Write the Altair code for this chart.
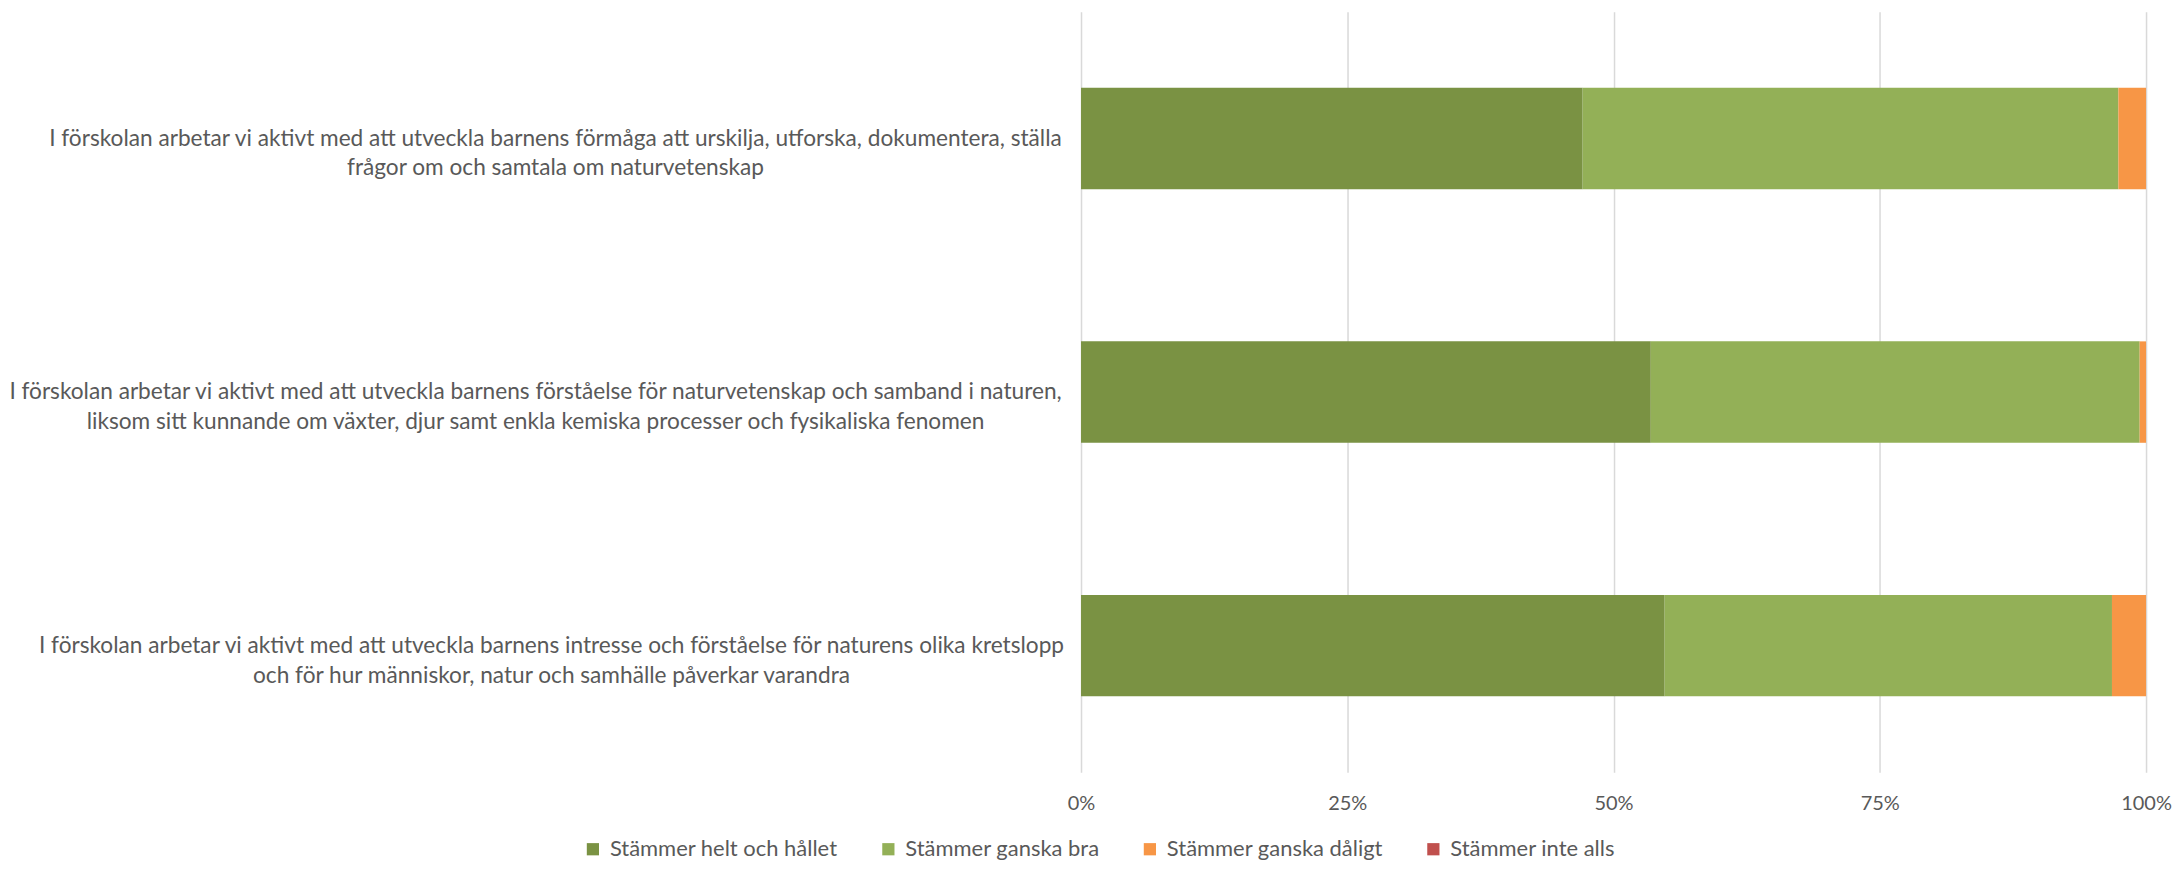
import altair as alt
import pandas as pd

categories = [
    "I förskolan arbetar vi aktivt med att utveckla barnens förmåga att urskilja, utforska, dokumentera, ställa\nfrågor om och samtala om naturvetenskap",
    "I förskolan arbetar vi aktivt med att utveckla barnens förståelse för naturvetenskap och samband i naturen,\nliksom sitt kunnande om växter, djur samt enkla kemiska processer och fysikaliska fenomen",
    "I förskolan arbetar vi aktivt med att utveckla barnens intresse och förståelse för naturens olika kretslopp\noch för hur människor, natur och samhälle påverkar varandra",
]
series = ["Stämmer helt och hållet", "Stämmer ganska bra", "Stämmer ganska dåligt", "Stämmer inte alls"]
colors = ["#7A9243", "#93B057", "#F79646", "#C0504D"]

helt = [0.471, 0.535, 0.548]
bra = [0.503, 0.459, 0.420]
daligt = [0.026, 0.006, 0.032]
inte = [0.0, 0.0, 0.0]

rows = []
for i, c in enumerate(categories):
    for k, (s, vals) in enumerate(zip(series, [helt, bra, daligt, inte])):
        rows.append({"category": c, "series": s, "value": vals[i], "order": k})
df = pd.DataFrame(rows)

font = "Lato"
txt = "#595959"
fs = 22.7

chart = alt.Chart(df).mark_bar().encode(
    y=alt.Y(
        "category:N",
        sort=categories,
        scale=alt.Scale(paddingInner=0.6, paddingOuter=0.3),
        axis=alt.Axis(
            title=None,
            domain=False,
            ticks=False,
            labelExpr="split(datum.label, '\\n')",
            labelAlign="center",
            labelPadding={
                "condition": [
                    {"test": "indexof(datum.value, 'förmåga') >= 0", "value": 527},
                    {"test": "indexof(datum.value, 'förståelse för naturvetenskap') >= 0", "value": 547},
                ],
                "value": 531,
            },
            labelLimit=2000,
            labelFont=font,
            labelFontSize=fs,
            labelColor=txt,
            labelLineHeight=30,
        ),
    ),
    x=alt.X(
        "value:Q",
        stack="zero",
        scale=alt.Scale(domain=[0, 1], nice=False),
        axis=alt.Axis(
            title=None,
            values=[0, 0.25, 0.5, 0.75, 1.0],
            format=".0%",
            domain=False,
            ticks=False,
            grid=True,
            gridColor="#D9D9D9",
            gridWidth=1.5,
            labelFlush=False,
            labelFont=font,
            labelFontSize=20,
            labelColor=txt,
            labelPadding=21,
        ),
    ),
    color=alt.Color(
        "series:N",
        sort=series,
        scale=alt.Scale(domain=series, range=colors),
        legend=alt.Legend(
            title=None,
            orient="none",
            direction="horizontal",
            legendX=-500,
            legendY=828,
            symbolType="square",
            symbolSize=150,
            symbolStrokeWidth=0,
            labelFont=font,
            labelFontSize=22,
            labelColor=txt,
            labelLimit=1000,
            columnPadding=39,
            labelOffset=6,
        ),
    ),
    order=alt.Order("order:Q"),
).properties(
    width=1067,
    height=762,
    padding={"left": 0, "top": 3, "right": 0, "bottom": 0},
).configure_view(stroke=None)

chart.save("out.html", embed_options={"renderer": "svg", "actions": False})
